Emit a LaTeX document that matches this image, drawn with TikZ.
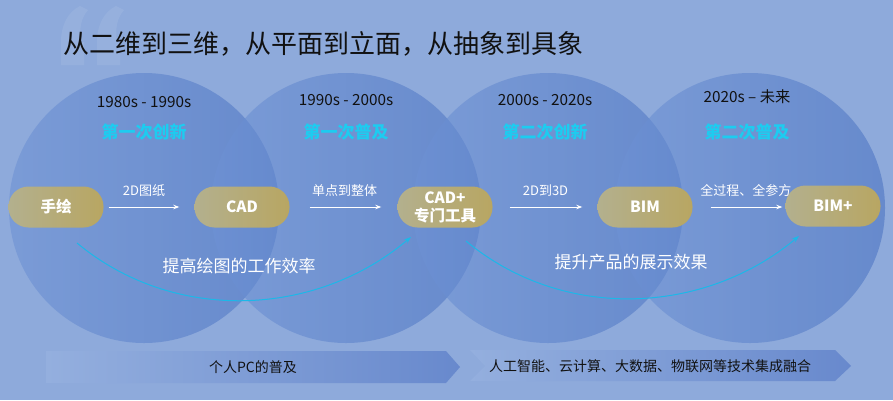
\documentclass[tikz,border=0pt]{standalone}
\usepackage{fontspec}
\setmainfont{Noto Sans CJK SC}
\usetikzlibrary{arrows.meta}
\definecolor{bg}{HTML}{8EAADB}
\definecolor{circL}{HTML}{6E92D4}
\definecolor{circM}{HTML}{557DC9}
\definecolor{circR}{HTML}{4D75C3}
\definecolor{subc}{HTML}{1DCCF0}
\definecolor{pillL}{HTML}{B3B08E}
\definecolor{pillR}{HTML}{B8A662}
\definecolor{bandL}{HTML}{94AFDE}
\definecolor{bandM}{HTML}{6E8FD0}
\definecolor{bandR}{HTML}{6889CD}
\definecolor{arcc}{HTML}{1CB8E8}
\definecolor{ink}{HTML}{111111}
\newcommand{\fs}[1]{\fontsize{#1}{#1}\selectfont}
\begin{document}
\begin{tikzpicture}[x=1pt,y=-1pt,
  era/.style={left color=circL, middle color=circM, right color=circR, opacity=0.6},
  pill/.style={left color=pillL, right color=pillR, rounded corners=20pt,
    minimum width=95pt, minimum height=41pt, inner sep=0pt, text=white,
    font=\bfseries\fontsize{15.5}{18}\selectfont, align=center},
  year/.style={text=ink, font=\fs{15.3}},
  sub/.style={text=subc, font=\bfseries\fs{17}},
  flow/.style={draw=white, line width=1pt, -{Stealth[length=6pt,width=4.5pt]}},
  lbl/.style={text=white, font=\fs{13}},
  gain/.style={draw=arcc, line width=1pt, -{Stealth[length=7pt,width=5pt]}},
  gainlbl/.style={text=white, font=\fs{17}},
  bandtxt/.style={text=ink, font=\fs{14}},
  quote/.style={fill=white, fill opacity=0.08}
]
\useasboundingbox (0,0) rectangle (893,400);
\fill[bg] (0,0) rectangle (893,400);

% quote mark
\foreach \dx in {0,36}{
  \fill[quote] (61+\dx,65) -- (61+\dx,42) .. controls (61+\dx,25) and (68+\dx,12) .. (80+\dx,6)
    -- (88+\dx,10) .. controls (81+\dx,18) and (79+\dx,28) .. (81+\dx,42) -- (84+\dx,42) -- (84+\dx,65) -- cycle;
}

% title
\node[anchor=west, text=ink, font=\fs{26}] (title) at (60,44) {从二维到三维，从平面到立面，从抽象到具象};

% era circles
\shade[era] (144,208) circle[radius=135pt];
\shade[era] (346,208) circle[radius=135pt];
\shade[era] (548,208) circle[radius=135pt];
\shade[era] (750,208) circle[radius=135pt];

% years and phases
\node[year] (y1) at (144,102) {1980s - 1990s};
\node[year] (y2) at (346,100) {1990s - 2000s};
\node[year] (y3) at (545,100) {2000s - 2020s};
\node[year] (y4) at (747,97) {2020s – 未来};
\node[sub] (s1) at (144,132) {第一次创新};
\node[sub] (s2) at (346,132) {第一次普及};
\node[sub] (s3) at (545,132) {第二次创新};
\node[sub] (s4) at (747,132) {第二次普及};

% pills
\node[pill] (p1) at (56,207) {手绘};
\node[pill] (p2) at (242,207) {CAD};
\node[pill] (p3) at (445,207) {CAD+\\专门工具};
\node[pill] (p4) at (645,207) {BIM};
\node[pill] (p5) at (833,206) {BIM+};

% flow arrows
\draw[flow, shorten <=5pt, shorten >=15pt] (p1.east) -- node[lbl, pos=0.445, yshift=16pt] {2D图纸} (p2.west);
\draw[flow, shorten <=20pt, shorten >=16pt] (p2.east) -- node[lbl, pos=0.51, yshift=16pt] {单点到整体} (p3.west);
\draw[flow, shorten <=17pt, shorten >=15pt] (p3.east) -- node[lbl, pos=0.505, yshift=16pt] {2D到3D} (p4.west);
\draw[flow, shorten <=18pt, shorten >=3pt] (p4.east) -- node[lbl, pos=0.575, yshift=17pt] {全过程、全参方} (p4.east -| p5.west);

% gain arcs
\coordinate (a1s) at (77,243);
\coordinate (a1e) at (411,237);
\coordinate (a2s) at (466,241);
\coordinate (a2e) at (799,236);
\draw[gain] (a1s) .. controls (173,323) and (315,318) .. (a1e);
\draw[gain] (a2s) .. controls (562,321) and (703,316) .. (a2e);
\node[gainlbl] (g1) at (239,266) {提高绘图的工作效率};
\node[gainlbl] (g2) at (631,262) {提升产品的展示效果};

% bottom bands
\shade[left color=bandL, middle color=bandM, right color=bandR]
  (46,351) -- (446,351) -- (460,367) -- (446,383) -- (46,383) -- cycle;
\node[bandtxt] (b1) at (253,367) {个人PC的普及};
\shade[left color=bandL, middle color=bandM, right color=bandR]
  (470,350) -- (835,350) -- (851,366) -- (835,381) -- (470,381) -- (485,366) -- cycle;
\node[bandtxt] (b2) at (650,366) {人工智能、云计算、大数据、物联网等技术集成融合};
\end{tikzpicture}
\end{document}
